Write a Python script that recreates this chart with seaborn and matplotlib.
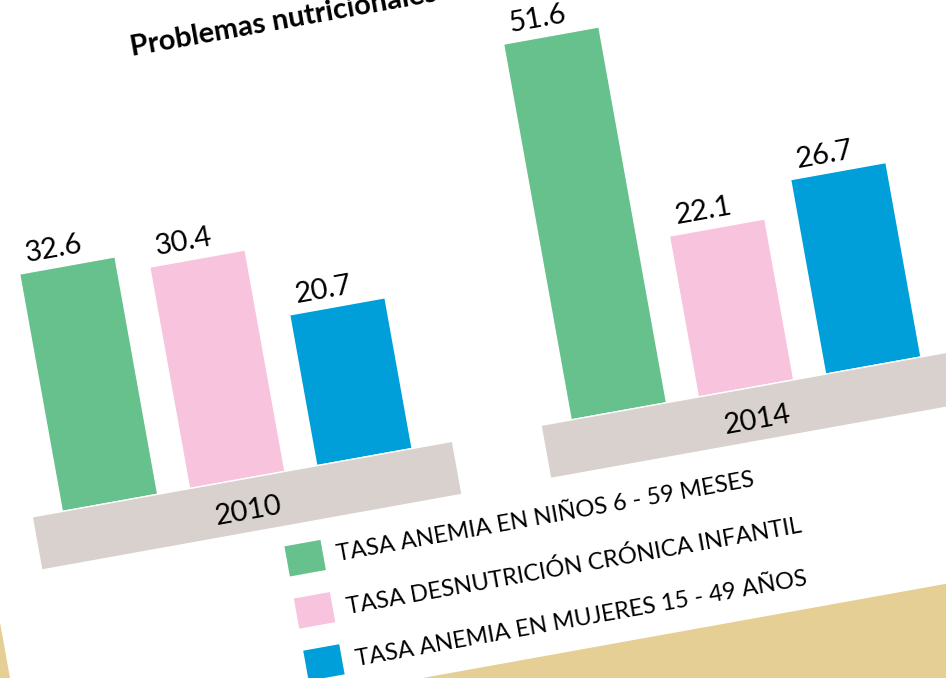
import numpy as np
import pandas as pd
import matplotlib
matplotlib.use("Agg")
import matplotlib.pyplot as plt
import seaborn as sns
from matplotlib.patches import Rectangle
from matplotlib.transforms import Affine2D, IdentityTransform

# datos
anios = ["2010", "2014"]
indicadores = [
    "TASA ANEMIA EN NIÑOS 6 - 59 MESES",
    "TASA DESNUTRICIÓN CRÓNICA INFANTIL",
    "TASA ANEMIA EN MUJERES 15 - 49 AÑOS",
]
anemia_ninos = [32.6, 51.6]
desnutricion = [30.4, 22.1]
anemia_mujeres = [20.7, 26.7]
colores = ["#67c18d", "#f8c3dc", "#009fda"]

df = pd.DataFrame({
    "anio": anios * 3,
    "indicador": np.repeat(indicadores, len(anios)),
    "valor": anemia_ninos + desnutricion + anemia_mujeres,
})

sns.set_theme(style="white")
plt.rcParams["font.family"] = ["Lato", "DejaVu Sans"]
plt.rcParams["text.color"] = "black"

W, H = 946, 678
fig = plt.figure(figsize=(W / 100, H / 100), dpi=100, facecolor="#e6cf95")
ax = fig.add_axes([0, 0, 1, 1])

sns.barplot(data=df, x="anio", y="valor", hue="indicador", order=anios,
            hue_order=indicadores, palette=colores, saturation=1,
            width=0.75, gap=0.25, errorbar=None, legend=False, ax=ax, zorder=2)
bars = list(ax.patches)

# whole card is tilted, like the scanned page
ang = 10.2
rot = Affine2D().rotate_deg_around(473, 339, ang)
data_rot = ax.transData + rot
pix_rot = IdentityTransform() + rot

# white page
ax.add_patch(Rectangle((-42, 15), 3000, 3000, facecolor="white",
                       transform=pix_rot, zorder=0.5))

# bars + value labels
for b in bars:
    b.set_transform(data_rot)
    cx = b.get_x() + b.get_width() / 2
    h = b.get_height()
    ax.text(cx - 0.02, h + 1.4, f"{h:.1f}", fontsize=21, ha="center",
            va="baseline", rotation=ang, rotation_mode="anchor",
            transform=data_rot, zorder=4)

# year bands
for i, anio in enumerate(anios):
    ax.add_patch(Rectangle((i + 0.01 - 0.413, -7.3), 0.826, 7.3,
                           facecolor="#d8d1ce", transform=data_rot, zorder=3))
    ax.text(i + 0.01, -5.5, anio, fontsize=21, ha="center", va="baseline",
            rotation=ang, rotation_mode="anchor", transform=data_rot, zorder=4)

# legend
for k, (lab, col) in enumerate(zip(indicadores, colores)):
    y = 137 - 53 * k
    ax.add_patch(Rectangle((250, y), 38, 32, facecolor=col,
                           transform=pix_rot, zorder=3))
    ax.text(301, y + 7, lab, fontsize=17, ha="left", va="baseline",
            rotation=ang, rotation_mode="anchor", transform=pix_rot, zorder=4)

# title
ax.text(188, 678, "Problemas nutricionales", fontsize=21, fontweight="bold",
        ha="left", va="baseline", rotation=ang, rotation_mode="anchor",
        transform=pix_rot, zorder=4)

ax.set_xlim(-216 / 517, (W - 216) / 517)
ax.set_ylim(-242 / 7.4, (H - 242) / 7.4)
ax.axis("off")

plt.savefig("out.png", dpi=100, facecolor=fig.get_facecolor())
